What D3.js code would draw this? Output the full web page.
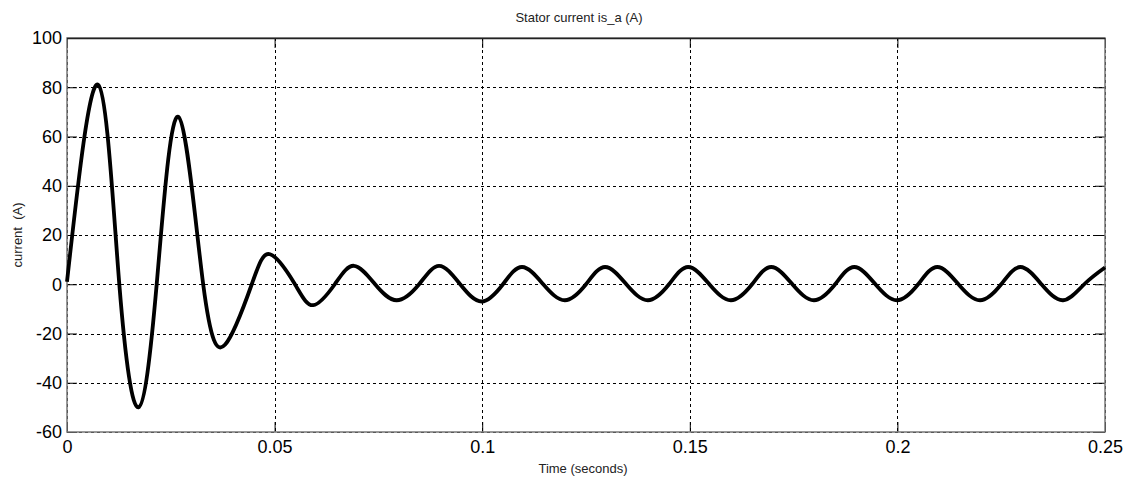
<!DOCTYPE html>
<html>
<head>
<meta charset="utf-8">
<script src="https://cdn.jsdelivr.net/npm/d3@7"></script>
<style>
body{margin:0;background:#fff;}
svg{display:block;font-family:"Liberation Sans",Arial,sans-serif;}
</style>
</head>
<body>
<div id="chart"></div>
<script>
// extrema and zero crossings
var timeS = [0, 0.0075, 0.0126, 0.0172, 0.0216, 0.0268, 0.0328, 0.0381, 0.0445, 0.0489,
  0.0549, 0.0593, 0.0645, 0.0691, 0.0742, 0.0794, 0.0848, 0.0896, 0.0947, 0.0999,
  0.105, 0.1096, 0.1147, 0.1199, 0.125, 0.1296, 0.1347, 0.1399, 0.145, 0.1496,
  0.1547, 0.1599, 0.165, 0.1696, 0.1747, 0.1799, 0.185, 0.1896, 0.1947, 0.1999,
  0.205, 0.2096, 0.2147, 0.2199, 0.225, 0.2296, 0.2347, 0.2399, 0.245, 0.25];
var currentA = [1, 81, 0, -50, 0, 68, 0, -24.5, 0, 12.2,
  0, -8.5, 0, 7.5, 0, -6.5, 0, 7.5, 0, -7,
  0, 7, 0, -6.5, 0, 7, 0, -6.5, 0, 7,
  0, -6.5, 0, 7, 0, -6.5, 0, 7, 0, -6.5,
  0, 7, 0, -6.5, 0, 7, 0, -6.5, 0, 6.8];
var xTicks = [0, 0.05, 0.1, 0.15, 0.2, 0.25];
var xTickLabels = ["0", "0.05", "0.1", "0.15", "0.2", "0.25"];
var yTicks = [-60, -40, -20, 0, 20, 40, 60, 80, 100];

var W = 1134, H = 481;
var margin = {top: 38, right: 29, bottom: 49, left: 67},
    width = W - margin.left - margin.right,
    height = H - margin.top - margin.bottom;

var x = d3.scaleLinear().domain([0, 0.25]).range([0, width]);
var y = d3.scaleLinear().domain([-60, 100]).range([height, 0]);

var svg = d3.select("#chart").append("svg")
  .attr("width", W).attr("height", H);
var g = svg.append("g")
  .attr("transform", "translate(" + margin.left + "," + margin.top + ")");

// dotted grid
g.append("g").selectAll("line").data(yTicks).enter().append("line")
  .attr("x1", 0).attr("x2", width)
  .attr("y1", function(d){ return Math.round(y(d)) + 0.5; })
  .attr("y2", function(d){ return Math.round(y(d)) + 0.5; })
  .attr("stroke", "#000").attr("stroke-width", 1)
  .attr("stroke-dasharray", "3,3");
g.append("g").selectAll("line").data(xTicks).enter().append("line")
  .attr("y1", 0).attr("y2", height)
  .attr("x1", function(d){ return Math.round(x(d)) + 0.5; })
  .attr("x2", function(d){ return Math.round(x(d)) + 0.5; })
  .attr("stroke", "#000").attr("stroke-width", 1)
  .attr("stroke-dasharray", "3,3");

// axes with inner ticks
var yAxisL = d3.axisLeft(y).tickValues(yTicks).tickSize(-10).tickPadding(5)
  .tickFormat(function(d){ return String(d); });
var yAxisR = d3.axisRight(y).tickValues(yTicks).tickSize(-10).tickFormat("");
var xAxisB = d3.axisBottom(x).tickValues(xTicks).tickSize(-10).tickPadding(8)
  .tickFormat(function(d, i){ return xTickLabels[i]; });
var xAxisT = d3.axisTop(x).tickValues(xTicks).tickSize(-10).tickFormat("");

function styleAxis(sel){
  sel.select(".domain").attr("stroke", "#777").attr("stroke-width", 1.5);
  sel.selectAll(".tick line").attr("stroke", "#000");
  sel.selectAll(".tick text").attr("fill", "#000").style("font-size", "18px");
}
g.append("g").call(yAxisL).call(styleAxis);
g.append("g").attr("transform", "translate(" + width + ",0)").call(yAxisR).call(styleAxis);
g.append("g").attr("transform", "translate(0," + height + ")").call(xAxisB).call(styleAxis);
g.append("g").call(xAxisT).call(styleAxis);
g.selectAll(".domain").attr("d", null);
g.append("rect").attr("x", 0).attr("y", 0).attr("width", width).attr("height", height)
  .attr("fill", "none").attr("stroke", "#777").attr("stroke-width", 1.5);
g.append("line").attr("x1", 0).attr("x2", width).attr("y1", 0.5).attr("y2", 0.5)
  .attr("stroke", "#222").attr("stroke-width", 1.5);

// trace
var pts = timeS.map(function(t, i){ return [t, currentA[i]]; });
var line = d3.line()
  .x(function(d){ return x(d[0]); })
  .y(function(d){ return y(d[1]); })
  .curve(d3.curveNatural);
g.append("path").datum(pts)
  .attr("d", line)
  .attr("fill", "none")
  .attr("stroke", "#000")
  .attr("stroke-width", 3.8)
  .attr("stroke-linejoin", "round");

// labels
svg.append("text")
  .attr("x", 579).attr("y", 22)
  .attr("text-anchor", "middle")
  .style("font-size", "13px").attr("fill", "#222")
  .text("Stator current is_a (A)");
svg.append("text")
  .attr("x", 583).attr("y", 473)
  .attr("text-anchor", "middle")
  .style("font-size", "13px").attr("fill", "#222")
  .text("Time (seconds)");
svg.append("text")
  .attr("transform", "translate(22," + (margin.top + height / 2) + ")rotate(-90)")
  .attr("text-anchor", "middle")
  .style("font-size", "13px").attr("fill", "#222")
  .style("white-space", "pre")
  .text("current  (A)");
</script>
</body>
</html>
